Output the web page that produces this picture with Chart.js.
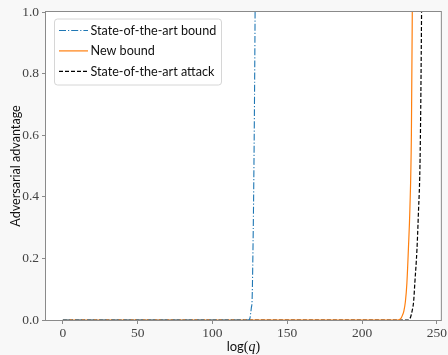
<!DOCTYPE html>
<html>
<head>
<meta charset="utf-8">
<script src="https://cdn.jsdelivr.net/npm/chart.js@4.4.0/dist/chart.umd.min.js"></script>
<style>
  html, body { margin: 0; padding: 0; background: #f8f8f8; }
  canvas { display: block; }
</style>
</head>
<body>
<canvas id="chart" width="448" height="355"></canvas>
<script>
// x = log(q), y = adversarial advantage (anything above 1 is cut off by the axis)
var stateBoundX = [0, 124, 125, 125.5, 126, 126.5, 127, 127.5, 128, 128.5, 129];
var stateBoundY = [0, 0, 0.005, 0.02, 0.04, 0.065, 0.2, 0.39, 0.65, 1.0, 1.5];

var newBoundX = [0, 224, 226, 227, 228, 229, 230, 231, 232, 233, 233.6, 234.2];
var newBoundY = [0, 0, 0.005, 0.015, 0.03, 0.06, 0.12, 0.23, 0.36, 0.6, 1.0, 1.5];

var attackX = [0, 231, 232.5, 233.5, 234.5, 235.3, 236.7, 237.6, 238.9, 239.8, 240.4];
var attackY = [0, 0, 0.01, 0.03, 0.06, 0.12, 0.227, 0.335, 0.55, 1.0, 1.5];

var seriesLabels = ['State-of-the-art bound', 'New bound', 'State-of-the-art attack'];
var xTicks = [0, 50, 100, 150, 200, 250];
var yTicks = [0, 0.2, 0.4, 0.6, 0.8, 1.0];

var SERIF = '"Liberation Serif", "Times New Roman", "DejaVu Serif", serif';
var SANS = 'Lato, sans-serif';

function toPoints(xs, ys) {
    return xs.map(function (x, i) { return { x: x, y: ys[i] }; });
}

// grey figure, white axes, frame on all four sides
var framePlugin = {
    id: 'frame',
    beforeDraw: function (chart) {
        var ctx = chart.ctx, a = chart.chartArea;
        ctx.save();
        ctx.fillStyle = '#f8f8f8';
        ctx.fillRect(0, 0, chart.width, chart.height);
        ctx.fillStyle = '#ffffff';
        ctx.fillRect(a.left, a.top, a.right - a.left, a.bottom - a.top);
        ctx.restore();
    },
    afterDatasetsDraw: function (chart) {
        var ctx = chart.ctx, a = chart.chartArea;
        ctx.save();
        ctx.strokeStyle = '#8a8a8a';
        ctx.lineWidth = 1;
        ctx.strokeRect(a.left - 0.5, a.top - 0.5, a.right - a.left + 1, a.bottom - a.top + 1);
        ctx.restore();
    }
};

// legend box in the upper left corner of the axes
var legendPlugin = {
    id: 'boxLegend',
    afterDraw: function (chart) {
        var ctx = chart.ctx, a = chart.chartArea;
        var x0 = a.left + 8, y0 = a.top + 6.5, w = 167, h = 66;
        ctx.save();
        ctx.fillStyle = 'rgba(255,255,255,0.8)';
        ctx.strokeStyle = '#d6d6d6';
        ctx.lineWidth = 1;
        ctx.beginPath();
        ctx.roundRect(x0 + 0.5, y0 + 0.5, w, h, 3);
        ctx.fill();
        ctx.stroke();
        ctx.font = '12.6px ' + SANS;
        ctx.textBaseline = 'middle';
        chart.data.datasets.forEach(function (ds, i) {
            var y = y0 + 12 + i * 20.4;
            ctx.strokeStyle = ds.borderColor;
            ctx.lineWidth = ds.borderWidth;
            ctx.setLineDash(ds.borderDash || []);
            ctx.beginPath();
            ctx.moveTo(x0 + 5, y);
            ctx.lineTo(x0 + 34, y);
            ctx.stroke();
            ctx.setLineDash([]);
            ctx.fillStyle = '#111';
            ctx.fillText(ds.label, x0 + 36.5, y + 0.5);
        });
        ctx.restore();
    }
};

// x axis title with an italic q
var xTitlePlugin = {
    id: 'xTitle',
    afterDraw: function (chart) {
        var ctx = chart.ctx, a = chart.chartArea;
        var parts = [
            { t: 'log', f: '13px ' + SANS },
            { t: '(', f: '14px ' + SERIF },
            { t: 'q', f: 'italic 14px ' + SERIF },
            { t: ')', f: '14px ' + SERIF }
        ];
        ctx.save();
        var total = 0;
        parts.forEach(function (p) { ctx.font = p.f; p.w = ctx.measureText(p.t).width; total += p.w; });
        var x = (a.left + a.right) / 2 - total / 2;
        ctx.fillStyle = '#111';
        ctx.textBaseline = 'alphabetic';
        parts.forEach(function (p) {
            ctx.font = p.f;
            ctx.fillText(p.t, x, 351);
            x += p.w;
        });
        ctx.restore();
    }
};

var tickFont = { family: SERIF, size: 13.5 };

new Chart(document.getElementById('chart').getContext('2d'), {
    type: 'scatter',
    data: {
        datasets: [
            {
                label: seriesLabels[0],
                data: toPoints(stateBoundX, stateBoundY),
                borderColor: '#1f77b4',
                borderWidth: 1.1,
                borderDash: [7, 2, 1.2, 2]
            },
            {
                label: seriesLabels[1],
                data: toPoints(newBoundX, newBoundY),
                borderColor: '#ff7f0e',
                borderWidth: 1.2
            },
            {
                label: seriesLabels[2],
                data: toPoints(attackX, attackY),
                borderColor: '#000000',
                borderWidth: 1.2,
                borderDash: [4, 2]
            }
        ].map(function (ds) {
            ds.showLine = true;
            ds.pointRadius = 0;
            ds.cubicInterpolationMode = 'monotone';
            ds.clip = { left: 0, right: 0, top: 0, bottom: 4 };
            return ds;
        })
    },
    options: {
        responsive: false,
        animation: false,
        devicePixelRatio: 1,
        layout: { padding: { left: 0, right: 6, top: 12, bottom: 0 } },
        plugins: { legend: { display: false }, tooltip: { enabled: false } },
        scales: {
            x: {
                type: 'linear',
                min: -11.3,
                max: 252.7,
                afterBuildTicks: function (scale) {
                    scale.ticks = xTicks.map(function (v) { return { value: v }; });
                },
                afterFit: function (scale) { scale.height = 35; },
                grid: { drawOnChartArea: false, drawTicks: true, tickLength: 4, color: '#8a8a8a' },
                border: { display: false },
                ticks: { font: tickFont, color: '#444', padding: 1, maxRotation: 0 }
            },
            y: {
                type: 'linear',
                min: 0,
                max: 1,
                afterBuildTicks: function (scale) {
                    scale.ticks = yTicks.map(function (v) { return { value: v }; });
                },
                afterFit: function (scale) { scale.width = 46; },
                grid: { drawOnChartArea: false, drawTicks: true, tickLength: 4, color: '#8a8a8a' },
                border: { display: false },
                ticks: {
                    font: tickFont,
                    color: '#444',
                    padding: 3,
                    callback: function (v) { return v.toFixed(1); }
                },
                title: {
                    display: true,
                    text: 'Adversarial advantage',
                    font: { family: SANS, size: 12.6 },
                    color: '#111',
                    padding: { top: 8, bottom: 0 }
                }
            }
        }
    },
    plugins: [framePlugin, legendPlugin, xTitlePlugin]
});
</script>
</body>
</html>
